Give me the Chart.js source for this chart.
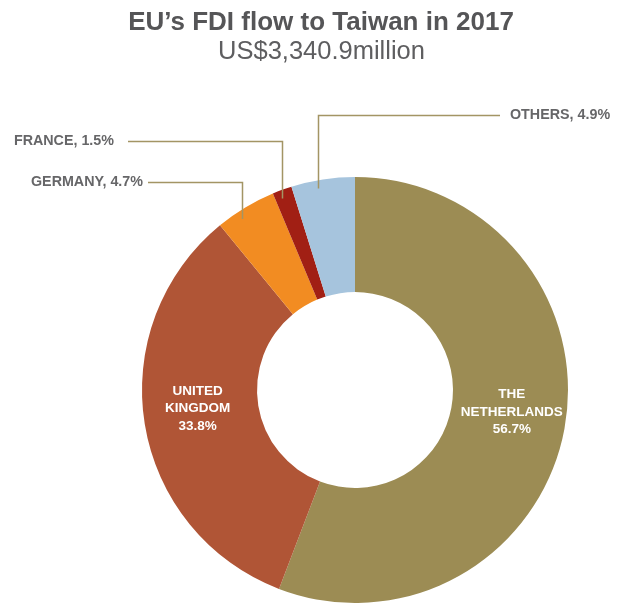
<!DOCTYPE html>
<html>

<head>
  <title>EU's FDI flow to Taiwan in 2017</title>
  <meta charset="UTF-8">
  <script src="https://cdn.jsdelivr.net/npm/chart.js@4.4.1/dist/chart.umd.min.js"></script>
  <style>
    body { margin: 0; background: #fff; }
    #wrap { width: 627px; height: 603px; }
  </style>
</head>

<body>
  <div id="wrap"><canvas id="myChart"></canvas></div>
  <script>
    var FONT = "'Liberation Sans', Arial, Helvetica, sans-serif";

    var titleText = "EU\u2019s FDI flow to Taiwan in 2017";
    var subtitleText = "US$3,340.9million";

    // share of FDI flow by source country (%)
    var countries = ["THE NETHERLANDS", "UNITED KINGDOM", "GERMANY", "FRANCE", "OTHERS"];
    var shares = [56.7, 33.8, 4.7, 1.5, 4.9];
    var colors = ["#9C8C54", "#B05536", "#F28C22", "#A11F14", "#A6C4DD"];

    // the two big slices get their label inside, split over lines
    var insideLines = {
      0: ["THE", "NETHERLANDS"],
      1: ["UNITED", "KINGDOM"]
    };

    // small slices: label out to the side with a bent leader line
    var callouts = [
      { index: 2, y: 182, textX: 143, lineX: 148, align: "right", at: 0.35 },
      { index: 3, y: 141, textX: 114, lineX: 128, align: "right", at: 0.33 },
      { index: 4, y: 115, textX: 510, lineX: 500, align: "left", at: 0.4 }
    ];

    // heading drawn by hand so it can sit centred on the page, not on the chart area
    var heading = {
      id: "heading",
      afterDraw: function(chart) {
        var ctx = chart.ctx;
        ctx.save();
        ctx.textAlign = "center";
        ctx.textBaseline = "alphabetic";
        ctx.fillStyle = "#555557";
        ctx.font = "bold 26px " + FONT;
        ctx.fillText(titleText, 321, 30);
        ctx.fillStyle = "#5E5E60";
        ctx.font = "25.5px " + FONT;
        ctx.fillText(subtitleText, 321.5, 59);
        ctx.restore();
      }
    };

    var sliceLabels = {
      id: "sliceLabels",
      afterDatasetsDraw: function(chart) {
        var ctx = chart.ctx;
        var arcs = chart.getDatasetMeta(0).data;

        // text inside the large slices
        ctx.save();
        ctx.fillStyle = "#fff";
        ctx.font = "bold 13.5px " + FONT;
        ctx.textAlign = "center";
        ctx.textBaseline = "middle";
        Object.keys(insideLines).forEach(function(k) {
          var a = arcs[k];
          var mid = (a.startAngle + a.endAngle) / 2;
          var r = (a.innerRadius + a.outerRadius) / 2 + 4;
          var x = a.x + Math.cos(mid) * r;
          var y = a.y + Math.sin(mid) * r - 7;
          var lines = insideLines[k].concat([shares[k] + "%"]);
          for (var i = 0; i < lines.length; i++) {
            ctx.fillText(lines[i], x, y + (i - 1) * 17.5);
          }
        });
        ctx.restore();

        // callouts
        ctx.save();
        ctx.strokeStyle = "#A39564";
        ctx.lineWidth = 1.5;
        ctx.fillStyle = "#666668";
        ctx.font = "bold 14.3px " + FONT;
        ctx.textBaseline = "middle";
        callouts.forEach(function(c) {
          var a = arcs[c.index];
          var ang = a.startAngle + (a.endAngle - a.startAngle) * c.at;
          var r = a.outerRadius - 8;
          var ax = Math.round(a.x + Math.cos(ang) * r) + 0.5;
          var ay = a.y + Math.sin(ang) * r;
          ctx.beginPath();
          ctx.moveTo(c.lineX, c.y + 0.5);
          ctx.lineTo(ax, c.y + 0.5);
          ctx.lineTo(ax, ay);
          ctx.stroke();
          ctx.textAlign = c.align;
          ctx.fillText(countries[c.index] + ", " + shares[c.index] + "%", c.textX, c.y);
        });
        ctx.restore();
      }
    };

    var ctx = document.getElementById("myChart").getContext("2d");
    var chart = new Chart(ctx, {
      type: "doughnut",
      data: {
        labels: countries,
        datasets: [{
          data: shares,
          backgroundColor: colors,
          borderWidth: 0
        }]
      },
      options: {
        responsive: true,
        maintainAspectRatio: false,
        animation: false,
        cutout: "46%",
        layout: {
          padding: { left: 142, right: 59, top: 177, bottom: 0 }
        },
        plugins: {
          legend: { display: false },
          tooltip: { enabled: false },
          title: { display: false }
        }
      },
      plugins: [sliceLabels, heading]
    });
  </script>
</body>

</html>
